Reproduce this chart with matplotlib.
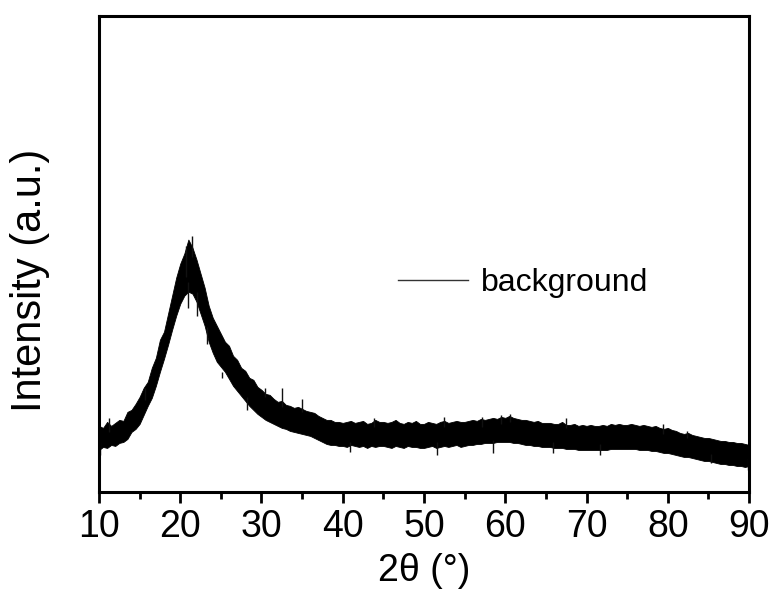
import numpy as np
import matplotlib
matplotlib.use("Agg")
import matplotlib.pyplot as plt
from matplotlib.ticker import MultipleLocator

# 2theta grid (0.5 deg) and the read-off upper / lower edges of the noisy trace (a.u.)
two_theta = np.arange(10.0, 90.01, 0.5)
upper = [66, 64, 70, 66, 69, 72, 71, 80, 82, 88,
         95, 104, 110, 124, 134, 152, 160, 178, 196, 214,
         228, 238, 252, 244, 232, 218, 204, 186, 174, 166,
         158, 150, 146, 136, 132, 124, 121, 114, 112, 105,
         102, 98, 97, 93, 90, 91, 87, 86, 84, 85,
         83, 81, 80, 79, 76, 74, 72, 72, 70, 70,
         69, 70, 71, 69, 70, 71, 68, 69, 72, 70,
         70, 69, 70, 72, 69, 68, 70, 69, 71, 68,
         68, 70, 69, 68, 70, 71, 69, 70, 71, 70,
         70, 71, 72, 71, 73, 72, 73, 74, 73, 75,
         74, 76, 74, 73, 72, 72, 71, 70, 71, 69,
         69, 69, 68, 68, 70, 67, 67, 68, 66, 67,
         66, 67, 66, 66, 67, 66, 68, 67, 68, 67,
         67, 68, 67, 66, 67, 66, 65, 66, 64, 63,
         64, 62, 61, 59, 58, 59, 57, 56, 55, 54,
         54, 53, 52, 51, 51, 50, 50, 49, 49, 48,
         47]
lower = [42, 45, 44, 47, 46, 49, 50, 53, 60, 63,
         68, 77, 86, 94, 106, 120, 133, 147, 162, 176,
         188, 196, 200, 198, 190, 178, 166, 150, 139, 130,
         125, 120, 113, 106, 101, 96, 91, 86, 82, 78,
         75, 72, 70, 68, 66, 64, 63, 61, 60, 59,
         58, 57, 56, 54, 52, 50, 48, 47, 47, 46,
         46, 45, 47, 46, 45, 46, 44, 46, 45, 46,
         46, 45, 44, 46, 45, 44, 46, 45, 45, 44,
         44, 45, 46, 44, 45, 46, 45, 46, 47, 45,
         46, 47, 47, 48, 48, 49, 49, 49, 50, 50,
         50, 50, 49, 49, 48, 47, 47, 46, 46, 45,
         45, 45, 44, 44, 44, 43, 43, 43, 42, 42,
         42, 42, 42, 42, 42, 42, 43, 43, 43, 43,
         43, 43, 43, 42, 42, 42, 41, 41, 40, 39,
         39, 38, 37, 36, 35, 35, 34, 33, 32, 31,
         31, 30, 29, 28, 28, 27, 27, 26, 26, 25,
         26]

# single noise needles that stick out of the band: position, start, tip
spike_x = [10.1, 11.2, 15.7, 20.7, 21.4, 20.9, 22.1, 23.3, 25.1, 28.2,
           30.4, 32.5, 35.0, 40.9, 43.8, 51.6, 52.4, 57.1, 58.5, 59.5,
           60.6, 65.9, 67.5, 71.6, 79.4, 82.4, 85.3, 89.9]
spike_from = [50, 60, 92, 215, 235, 210, 200, 165, 120, 95,
              95, 85, 80, 50, 65, 50, 65, 65, 52, 68,
              70, 50, 64, 48, 58, 54, 38, 34]
spike_to = [37, 74, 104, 246, 256, 184, 176, 148, 114, 82,
            104, 104, 93, 40, 74, 37, 75, 75, 39, 77,
            78, 39, 74, 37, 68, 61, 29, 22]

sans = ["Liberation Sans", "DejaVu Sans"]

fig = plt.figure(figsize=(7.77, 5.99), dpi=100)
ax = fig.add_axes([0.1274, 0.1786, 0.8366, 0.7944])

ax.fill_between(two_theta, lower, upper, color="black", lw=0.6)
ax.vlines(spike_x, spike_from, spike_to, color="#111111", lw=1.0)
ax.plot([], [], color="#333333", lw=1.0, label="background")

ax.set_xlim(10, 90)
ax.set_ylim(0, 475)
ax.xaxis.set_major_locator(MultipleLocator(10))
ax.xaxis.set_minor_locator(MultipleLocator(5))
ax.set_yticks([])
ax.tick_params(axis="x", which="major", direction="out", length=8, width=2, pad=4)
ax.tick_params(axis="x", which="minor", direction="out", length=5, width=2)
for s in ax.spines.values():
    s.set_linewidth(2.2)
for lab in ax.get_xticklabels():
    lab.set_family(sans)
    lab.set_fontsize(27)

ax.set_xlabel("2θ (°)", family=sans, fontsize=27, labelpad=6)
ax.set_ylabel("Intensity (a.u.)", family=sans, fontsize=30)
ax.yaxis.set_label_coords(-0.075, 0.445)

ax.legend(loc="center left", bbox_to_anchor=(0.46, 0.439), frameon=False,
          prop={"family": sans, "size": 23}, borderpad=0, borderaxespad=0,
          handlelength=2.2, handletextpad=0.4)

fig.savefig("out.png", dpi=100)
